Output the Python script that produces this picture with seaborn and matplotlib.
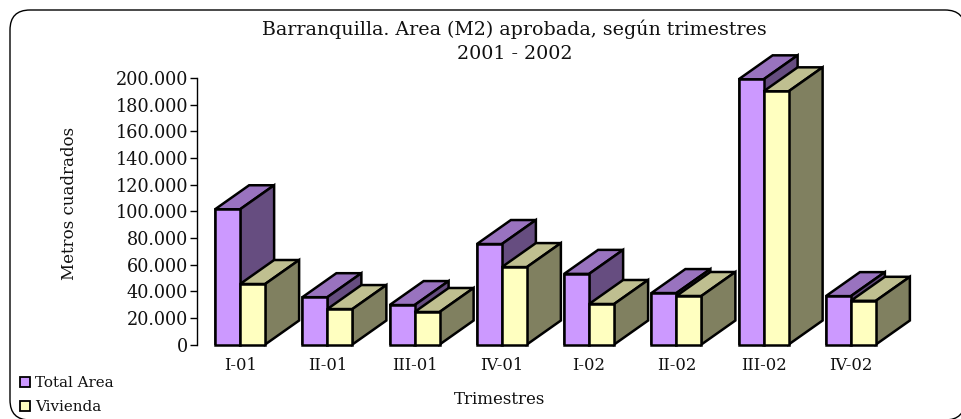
import pandas as pd
import matplotlib
matplotlib.use("Agg")
import matplotlib.pyplot as plt
import seaborn as sns
from matplotlib.colors import to_rgb
from matplotlib.patches import FancyBboxPatch, Polygon, Patch
from matplotlib.ticker import FuncFormatter
from matplotlib.transforms import IdentityTransform

trimestres = ["I-01", "II-01", "III-01", "IV-01", "I-02", "II-02", "III-02", "IV-02"]
total_area = [101500, 35500, 29600, 75400, 53000, 38600, 199000, 36300]
vivienda = [45400, 26600, 24400, 58100, 30400, 36400, 190000, 32800]
series = ["Total Area", "Vivienda"]
colors = ["#CC99FF", "#FFFFC0"]

W, H = 961, 419
DX, DY = 34, 24  # depth of the fake 3d, in pixels
LW = 1.8

sns.set_theme(style="white")
plt.rcParams["font.family"] = "DejaVu Serif"

df = pd.DataFrame({
    "trimestre": trimestres * 2,
    "serie": [series[0]] * 8 + [series[1]] * 8,
    "valor": total_area + vivienda,
})

fig = plt.figure(figsize=(W / 100, H / 100), dpi=100)
ax = fig.add_axes([196.5 / W, 1 - 344.5 / H, 698 / W, 266.5 / H])
ax.patch.set_alpha(0)

sns.barplot(data=df, x="trimestre", y="valor", hue="serie", palette=colors,
            saturation=1, width=0.573, gap=0, edgecolor="black", linewidth=LW,
            legend=False, ax=ax, zorder=3)
ax.set_xlim(-0.5, 7.5)
ax.set_ylim(0, 200000)
ax.set_yticks(range(0, 200001, 20000))
ax.yaxis.set_major_formatter(FuncFormatter(lambda v, p: f"{int(v):,}".replace(",", ".")))
ax.tick_params(axis="y", length=5, width=1, color="black", labelsize=12.7, pad=1, left=True)
ax.tick_params(axis="x", length=0, labelsize=11.8, pad=9)
for lab in ax.get_xticklabels() + ax.get_yticklabels():
    lab.set_color("#111111")
for s in ["top", "right", "bottom"]:
    ax.spines[s].set_visible(False)
ax.spines["left"].set_color("black")
ax.spines["left"].set_linewidth(1)
ax.set_xlabel("")
ax.set_ylabel("")


def shade(c, f):
    return tuple(v * f for v in to_rgb(c))


# side and top faces are worked out from the bars seaborn drew
base = 10
for k in range(8):
    for j, cont in enumerate(ax.containers):
        b = cont[k]
        x0, y0 = ax.transData.transform((b.get_x(), 0))
        x1, y1 = ax.transData.transform((b.get_x() + b.get_width(), b.get_height()))
        top = [(x0, y1), (x1, y1), (x1 + DX, y1 + DY), (x0 + DX, y1 + DY)]
        side = [(x1, y0), (x1 + DX, y0 + DY), (x1 + DX, y1 + DY), (x1, y1)]
        for pts, f in [(top, 0.75), (side, 0.5)]:
            fig.add_artist(Polygon(pts, closed=True, transform=IdentityTransform(),
                                   facecolor=shade(colors[j], f), edgecolor="black",
                                   linewidth=LW, joinstyle="miter", zorder=base))
        front = Polygon([(x0, y0), (x1, y0), (x1, y1), (x0, y1)], closed=True,
                        transform=IdentityTransform(), facecolor=colors[j],
                        edgecolor="black", linewidth=LW, joinstyle="miter", zorder=base)
        fig.add_artist(front)
        base += 1

frame = FancyBboxPatch((10, -1), 955, H - 9, boxstyle="round,pad=0,rounding_size=20",
                       transform=IdentityTransform(), facecolor="white",
                       edgecolor="black", linewidth=1, zorder=-5)
fig.add_artist(frame)

fig.text(514.5 / W, 1 - 29 / H, "Barranquilla. Area (M2) aprobada, según trimestres",
         ha="center", va="center", fontsize=13.7, color="#111111")
fig.text(515 / W, 1 - 54 / H, "2001 - 2002", ha="center", va="center",
         fontsize=13.7, color="#111111")
fig.text(70 / W, 1 - 203 / H, "Metros cuadrados", rotation=90, ha="center", va="center",
         fontsize=12, color="#111111")
fig.text(499.5 / W, 1 - 399 / H, "Trimestres", ha="center", va="center",
         fontsize=12, color="#111111")

handles = [Patch(facecolor=c, edgecolor="black", linewidth=1.3, label=s)
           for c, s in zip(colors, series)]
fig.legend(handles=handles, loc="lower left", bbox_to_anchor=(15 / W, 0 / H), frameon=False,
           fontsize=10.9, handlelength=0.7, handleheight=0.7, handletextpad=0.3,
           labelspacing=0.68, borderpad=0.3, borderaxespad=0, labelcolor="#111111")

fig.savefig("out.png", dpi=100)
